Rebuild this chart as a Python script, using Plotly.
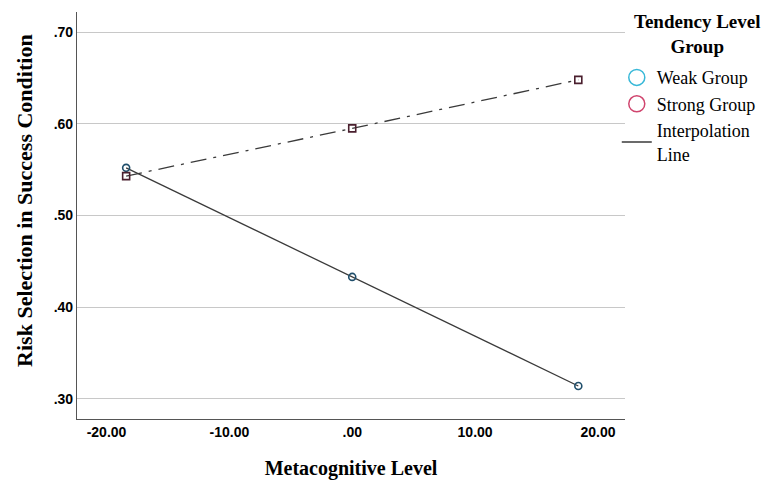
import plotly.graph_objects as go

x_levels = [-18.4, 0.0, 18.4]
weak_values = [0.552, 0.433, 0.314]
strong_values = [0.543, 0.595, 0.648]
x_ticks = [-20, -10, 0, 10, 20]
x_tick_labels = ["-20.00", "-10.00", ".00", "10.00", "20.00"]
y_ticks = [0.30, 0.40, 0.50, 0.60, 0.70]
y_tick_labels = [".30", ".40", ".50", ".60", ".70"]

serif = "Liberation Serif"
sans = "Liberation Sans"

fig = go.Figure()
fig.add_trace(go.Scatter(
    x=x_levels, y=weak_values, mode="lines+markers", showlegend=False,
    line=dict(color="#3a3a3a", width=1.3),
    marker=dict(symbol="circle-open", size=7, color="#1f4e6b", line=dict(width=1.6)),
))
fig.add_trace(go.Scatter(
    x=x_levels, y=strong_values, mode="lines+markers", showlegend=False,
    line=dict(color="#3a3a3a", width=1.3, dash="16px,7px,3px,7px"),
    marker=dict(symbol="square-open", size=7, color="#4a1f2e", line=dict(width=1.6)),
))
# legend entries
fig.add_trace(go.Scatter(
    x=[None], y=[None], mode="markers", name="Weak Group",
    marker=dict(symbol="circle-open", size=17, color="#38b8d8", line=dict(width=1.5)),
))
fig.add_trace(go.Scatter(
    x=[None], y=[None], mode="markers", name="Strong Group",
    marker=dict(symbol="circle-open", size=17, color="#d0456e", line=dict(width=1.5)),
))
fig.add_trace(go.Scatter(
    x=[None], y=[None], mode="lines", name="Interpolation<br>Line",
    line=dict(color="#3a3a3a", width=1.5),
))

fig.update_layout(
    width=776, height=476,
    margin=dict(l=69, r=159, t=4, b=65),
    paper_bgcolor="white", plot_bgcolor="white",
    font=dict(family=serif, color="black"),
    showlegend=True,
    legend=dict(
        x=0.985, y=0.884, xanchor="left", yanchor="top",
        font=dict(family=serif, size=18, color="black"),
        itemsizing="trace", tracegroupgap=0, itemwidth=30,
        bgcolor="rgba(0,0,0,0)",
    ),
    xaxis=dict(
        range=[-22.4, 22.2], tickmode="array", tickvals=x_ticks,
        ticktext=["<b>" + t + "</b>" for t in x_tick_labels],
        showgrid=False, zeroline=False, showline=True, linecolor="#555555", linewidth=1.2,
        ticks="", tickfont=dict(family=sans, size=14, color="black"),
        title=dict(text="<b>Metacognitive Level</b>", font=dict(family=serif, size=20), standoff=22),
    ),
    yaxis=dict(
        range=[0.278, 0.722], tickmode="array", tickvals=y_ticks,
        ticktext=["<b>" + t + "</b>" for t in y_tick_labels],
        showgrid=True, gridcolor="#c8c8c8", gridwidth=1.2, zeroline=False,
        showline=True, linecolor="#555555", linewidth=1.2,
        ticks="", tickfont=dict(family=sans, size=14, color="black"),
    ),
    annotations=[
        dict(
            text="<b>Risk Selection in Success Condition</b>", textangle=-90,
            xref="paper", yref="paper", x=-0.097, y=0.538, xanchor="center", yanchor="middle",
            showarrow=False, font=dict(family=serif, size=22, color="black"),
        ),
        dict(
            text="<b>Tendency Level<br>Group</b>",
            xref="paper", yref="paper", x=1.133, y=0.945, xanchor="center", yanchor="middle",
            align="center", showarrow=False, font=dict(family=serif, size=19, color="black"),
        ),
    ],
)
fig.update_traces(cliponaxis=False)

fig.write_html("out.html")
